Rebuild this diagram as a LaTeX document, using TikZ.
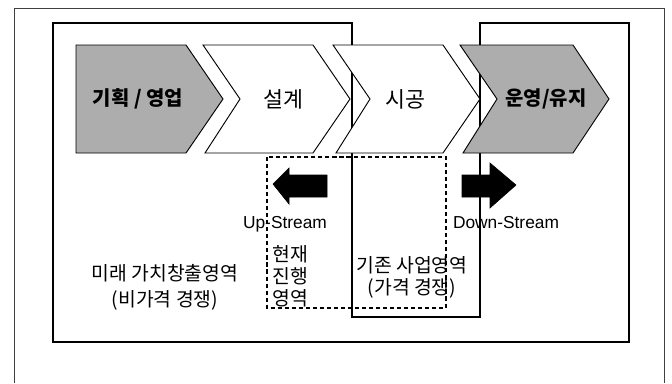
\documentclass[tikz,border=0pt]{standalone}
\usepackage{fontspec}
\setmainfont{Liberation Sans}
\newfontfamily\kr{Noto Sans CJK KR}
\begin{document}
\begin{tikzpicture}[x=0.03cm,y=-0.03cm,
  frame/.style={draw=black!75,line width=0.8pt},
  region/.style={draw=black,line width=1.3pt},
  chev/.style={draw=black,line width=0.8pt,line join=miter},
  chevgray/.style={chev,fill=black!32},
  chevwhite/.style={chev,fill=white},
  dashbox/.style={draw=black,line width=1.2pt,dash pattern=on 3.5pt off 2.5pt},
  blockarrow/.style={fill=black,draw=black,line width=0.5pt},
  lbl/.style={inner sep=0pt,font=\kr\fontsize{18.5pt}{20pt}\selectfont},
  txt/.style={inner sep=0pt,align=center,font=\kr\fontsize{16.5pt}{18.7pt}\selectfont},
  eng/.style={inner sep=0pt,font=\fontsize{14.8pt}{16pt}\selectfont}]
\useasboundingbox (0,0) rectangle (672,383);
\fill[white] (0,0) rectangle (672,383);
% outer frame
\draw[frame] (14,383) -- (14,8) -- (664,8) -- (664,383);
% region outline with notch
\draw[region] (53,23) -- (352,23) -- (352,317) -- (480,317) -- (480,23)
  -- (629,23) -- (629,342) -- (53,342) -- cycle;
% chevrons
\draw[chevgray] (76,45) -- (186,45) -- (223,99) -- (186,153) -- (76,153) -- cycle;
\draw[chevwhite] (203,45) -- (313,45) -- (350,99) -- (313,153) -- (205,153) -- (240,99) -- cycle;
\draw[chevwhite] (333,45) -- (443,45) -- (480,99) -- (443,153) -- (336,153) -- (370,99) -- cycle;
\draw[chevgray] (460,45) -- (573,45) -- (609,99) -- (573,153) -- (463,153) -- (497,99) -- cycle;
\node[lbl,font=\kr\bfseries\fontsize{17pt}{20pt}\selectfont] (plan) at (138,99) {기획 / 영업};
\node[lbl] (design) at (283,99) {설계};
\node[lbl] (build) at (405,99) {시공};
\node[lbl,font=\kr\bfseries\fontsize{17pt}{20pt}\selectfont] (oper) at (546,99) {운영/유지};
% dashed box
\draw[dashbox] (267,157) rectangle (446,308);
% block arrows
\draw[blockarrow] (327,175) -- (289,175) -- (289,168) -- (273,184) -- (289,204) -- (289,197) -- (327,197) -- cycle;
\draw[blockarrow] (462,175) -- (490,175) -- (490,163) -- (516,185) -- (490,208) -- (490,197) -- (462,197) -- cycle;
% texts
\node[eng] (up) at (285,224) {Up-Stream};
\node[eng] (down) at (506,223) {Down-Stream};
\node[txt,font=\kr\fontsize{16.5pt}{22pt}\selectfont] (future) at (165,287) {미래 가치창출영역\\(비가격 경쟁)};
\node[txt] (current) at (290,276) {현재\\진행\\영역};
\node[txt] (exist) at (412,277) {기존 사업영역\\(가격 경쟁)};
\end{tikzpicture}
\end{document}
